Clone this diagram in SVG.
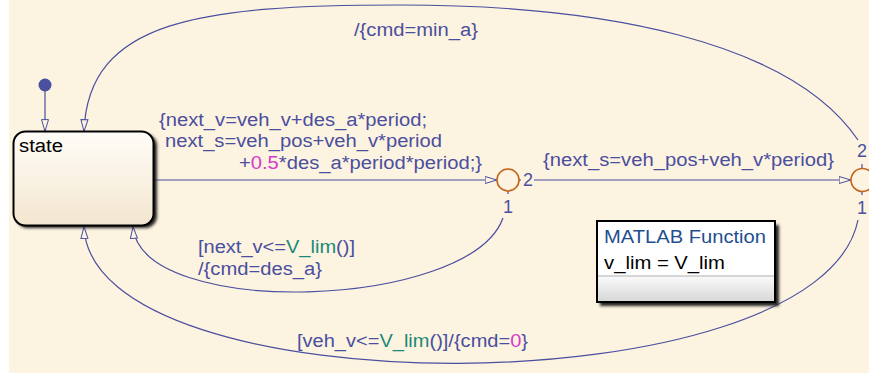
<svg xmlns="http://www.w3.org/2000/svg" width="869" height="373" viewBox="0 0 869 373">
<defs>
<style>
.t{font-family:"Liberation Sans",Arial,sans-serif;font-size:18px;fill:#4a4f9e}
.k{fill:#1a8a78}
.m{fill:#d63ac8}
.c{fill:none;stroke:#4a4f9e;stroke-width:1.2}
.j{fill:#fdf3e1;stroke:#c0661a;stroke-width:1.6}
</style>
<marker id="arr" viewBox="0 0 13 9" refX="12.5" refY="4.5" markerWidth="13" markerHeight="9" orient="auto" markerUnits="userSpaceOnUse">
<path d="M0.6,1 L12.4,4.5 L0.6,8 Z" fill="#fdf3e1" stroke="#4a4f9e" stroke-width="1"/>
</marker>
<linearGradient id="sg" x1="0" y1="0" x2="0" y2="1">
<stop offset="0" stop-color="#fffdf8"/>
<stop offset="1" stop-color="#f3e6cf"/>
</linearGradient>
<linearGradient id="gg" x1="0" y1="0" x2="0" y2="1">
<stop offset="0" stop-color="#fafafa"/>
<stop offset="1" stop-color="#d8d8d8"/>
</linearGradient>
<filter id="blur" x="-10%" y="-10%" width="130%" height="130%">
<feGaussianBlur stdDeviation="1.5"/>
</filter>
</defs>
<rect x="0" y="0" width="869" height="373" fill="#ffffff"/>
<rect x="9" y="0" width="860" height="373" fill="#fdf3e1"/>

<g id="connectors">
<!-- default transition -->
<circle cx="45" cy="85" r="6.5" fill="#4a4f9e"/>
<path class="c" d="M45,91 L45,131.5" marker-end="url(#arr)"/>
<!-- state -> junction 1 -->
<path class="c" d="M154,180 L497,180" marker-end="url(#arr)"/>
<!-- junction 1 -> junction 2 -->
<path class="c" d="M519,180 L521,180"/>
<path class="c" d="M534,180 L851,180" marker-end="url(#arr)"/>
<!-- junction 1 -> state (bottom small loop) -->
<path class="c" d="M508,191 L508,194"/>
<path class="c" d="M503,218 C470,310 140,320 133,226.5" marker-end="url(#arr)"/>
<!-- junction 2 -> state (big bottom loop) -->
<path class="c" d="M862,191.5 L862,195"/>
<path class="c" d="M858,220 C820,410 90,410 84,226.5" marker-end="url(#arr)"/>
<!-- junction 2 -> state (top loop) -->
<path class="c" d="M862,168.5 L862,164"/>
<path class="c" d="M858,140 C790,40 600,5 400,5 C200,5 88,20 84,131.5" marker-end="url(#arr)"/>
</g>

<g id="state">
<rect x="16" y="134" width="141" height="94" rx="12" fill="#222" filter="url(#blur)"/>
<rect x="13.5" y="131.5" width="140" height="94" rx="12" fill="url(#sg)" stroke="#000" stroke-width="2"/>
<text x="19" y="152" style="font-family:'Liberation Sans',Arial,sans-serif;font-size:18px;fill:#000" textLength="44" lengthAdjust="spacingAndGlyphs">state</text>
</g>

<g id="junction1">
<circle class="j" cx="508" cy="180" r="11"/>
<text class="t" x="523" y="186">2</text>
<text class="t" x="503" y="213">1</text>
</g>

<g id="junction2">
<circle class="j" cx="862.5" cy="180" r="11.5"/>
<text class="t" x="857" y="157">2</text>
<text class="t" x="857" y="214">1</text>
</g>

<g id="labels">
<text class="t" x="354" y="36" textLength="124" lengthAdjust="spacingAndGlyphs">/{cmd=min_a}</text>
<text class="t" x="159" y="126" textLength="268" lengthAdjust="spacingAndGlyphs">{next_v=veh_v+des_a*period;</text>
<text class="t" x="165" y="147" textLength="277" lengthAdjust="spacingAndGlyphs">next_s=veh_pos+veh_v*period</text>
<text class="t" x="239" y="169" textLength="243" lengthAdjust="spacingAndGlyphs">+<tspan class="m">0.5</tspan>*des_a*period*period;}</text>
<text class="t" x="543" y="166" textLength="291" lengthAdjust="spacingAndGlyphs">{next_s=veh_pos+veh_v*period}</text>
<text class="t" x="198" y="253" textLength="157" lengthAdjust="spacingAndGlyphs">[next_v&lt;=<tspan class="k">V_lim</tspan>()]</text>
<text class="t" x="198" y="275" textLength="124" lengthAdjust="spacingAndGlyphs">/{cmd=des_a}</text>
<text class="t" x="297" y="347" textLength="231" lengthAdjust="spacingAndGlyphs">[veh_v&lt;=<tspan class="k">V_lim</tspan>()]/{cmd=<tspan class="m">0</tspan>}</text>
</g>

<g id="matlab_function">
<rect x="600" y="225" width="179" height="81" fill="#222" filter="url(#blur)"/>
<rect x="597" y="221" width="178" height="81" fill="#ffffff" stroke="#000" stroke-width="2"/>
<rect x="598" y="276" width="176" height="25" fill="url(#gg)"/>
<line x1="598" y1="276" x2="774" y2="276" stroke="#b0b0b0" stroke-width="1"/>
<text x="604" y="243" style="font-family:'Liberation Sans',Arial,sans-serif;font-size:18px;fill:#1f4f8f" textLength="162" lengthAdjust="spacingAndGlyphs">MATLAB Function</text>
<text x="604" y="269" style="font-family:'Liberation Sans',Arial,sans-serif;font-size:18px;fill:#000" textLength="121" lengthAdjust="spacingAndGlyphs">v_lim = V_lim</text>
</g>
</svg>
